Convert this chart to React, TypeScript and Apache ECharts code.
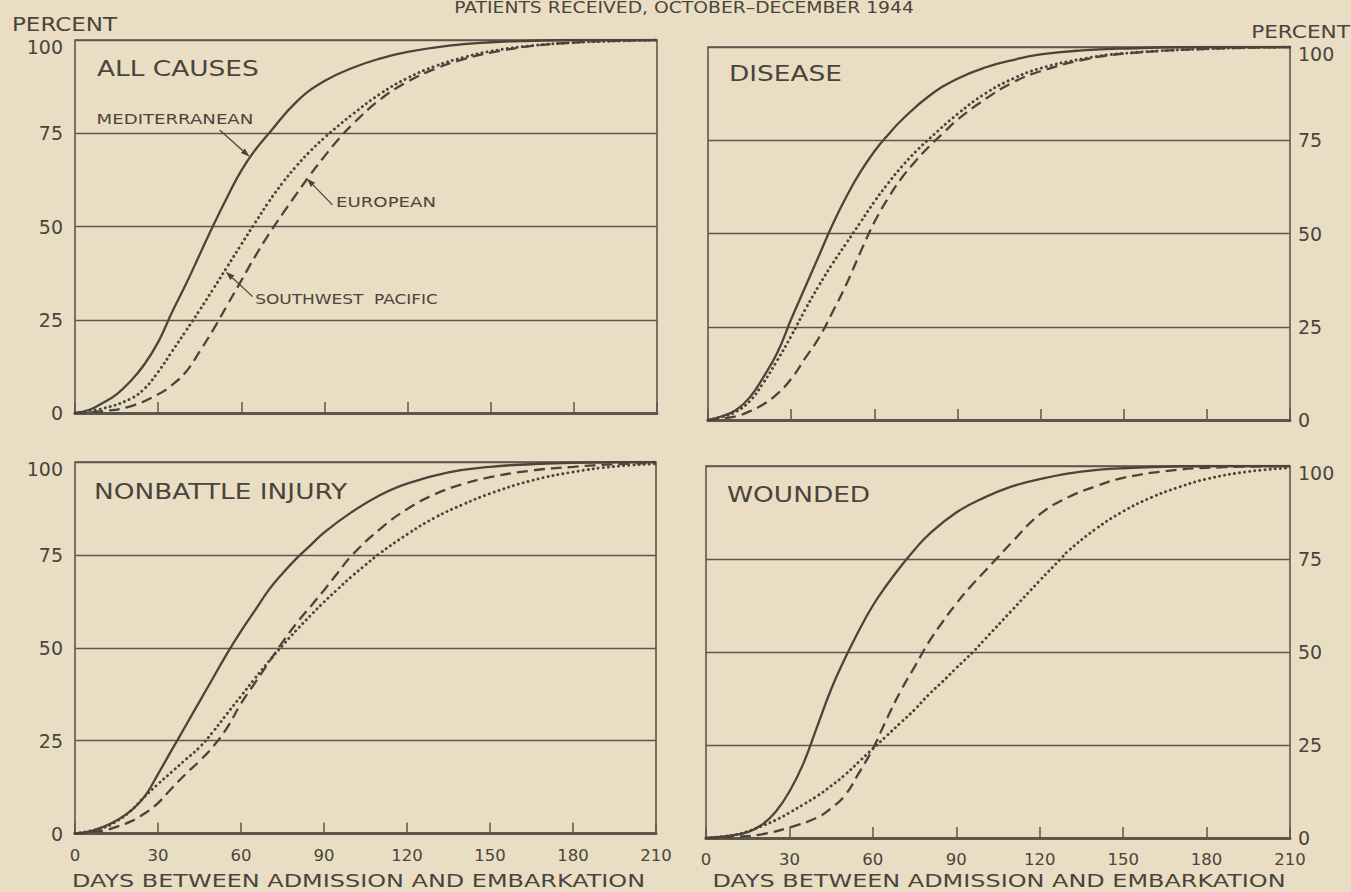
import React, { useEffect, useRef } from "react";
import * as echarts from "echarts";

// ---------- data (days between admission and embarkation, cumulative percent) ----------
const X_TICKS_STEP = 30;
const Y_TICKS_STEP = 25;

// ALL CAUSES
const allMediterranean = [[0,0],[5,0.8],[10,2.7],[15,5],[20,8.5],[25,13],[30,19],[35,27],[40,34.5],[45,42.5],[50,50.5],[55,58],[60,65],[65,70.5],[70,75],[80,83.5],[90,89],[100,92.5],[110,95],[120,96.8],[135,98.5],[150,99.4],[165,99.8],[180,100],[210,100]];
const allSouthwestPacific = [[0,0],[10,1.2],[20,3.8],[25,6.5],[30,11],[35,16.5],[40,22],[45,27.6],[50,33.4],[55,39.3],[60,45.2],[65,51],[70,56.7],[75,61.8],[80,66.3],[85,70.3],[90,73.8],[95,77],[100,80],[110,85.5],[120,89.8],[130,93],[140,95.3],[150,97],[165,98.5],[180,99.3],[195,99.7],[210,100]];
const allEuropean = [[0,0],[10,0.5],[20,1.8],[30,5],[35,7.5],[40,11],[45,16.5],[50,22.5],[55,29],[60,35.5],[65,42],[70,48],[75,53.5],[80,58.8],[85,64],[90,68.8],[95,73.3],[100,77.3],[110,84],[120,88.8],[130,92.3],[140,94.8],[150,96.6],[165,98.4],[180,99.3],[195,99.8],[210,100]];

// DISEASE
const disMediterranean = [[0,0],[5,1],[10,2.6],[15,6],[20,11.5],[25,18],[30,27],[35,35.5],[40,44],[45,52.5],[50,60],[55,66.5],[60,72],[65,76.5],[70,80.5],[80,87],[90,91.5],[100,94.5],[110,96.5],[120,98],[135,99.1],[150,99.6],[180,100],[210,100]];
const disSouthwestPacific = [[0,0],[5,0.8],[10,2.2],[15,5],[20,10],[25,16],[30,22.5],[35,29.5],[40,36],[45,42],[50,47.5],[55,53],[60,58.5],[65,63.5],[70,68],[75,72],[80,75.5],[90,82],[100,87.5],[110,91.5],[120,94.3],[135,96.8],[150,98.3],[180,99.5],[210,100]];
const disEuropean = [[0,0],[10,1],[15,2.3],[20,4.2],[25,7],[30,11],[35,16.5],[40,22],[45,29],[50,36.5],[55,45],[60,53],[65,59.5],[70,65],[75,69.5],[80,73.5],[85,77],[90,80.5],[100,86],[110,90.5],[120,93.5],[135,96.5],[150,98.2],[180,99.5],[210,100]];

// NONBATTLE INJURY
const nbiMediterranean = [[0,0],[5,0.5],[10,1.7],[15,3.5],[20,6],[25,9.8],[30,16],[35,22.5],[40,29],[45,35.5],[50,42],[55,48.5],[60,54.5],[65,60],[70,65.5],[75,70],[80,74],[85,77.5],[90,81],[100,86.5],[110,91],[120,94.2],[135,97.2],[150,98.7],[165,99.4],[180,99.8],[210,100]];
const nbiSouthwestPacific = [[0,0],[10,1.5],[15,3.3],[20,6],[25,9.8],[30,13.3],[35,16.6],[40,19.9],[45,23.2],[50,27.5],[55,32.3],[60,37],[65,41.7],[70,46.3],[75,50.6],[80,54.7],[85,58.6],[90,62.3],[95,65.8],[100,69.2],[105,72.3],[110,75.3],[120,80.5],[130,85],[140,88.5],[150,91.5],[165,95],[180,97.3],[195,98.8],[210,99.5]];
const nbiEuropean = [[0,0],[10,0.8],[15,1.8],[20,3.2],[25,5.3],[30,8.2],[35,12.2],[40,16],[45,19.5],[50,23.5],[55,28.5],[60,35],[65,40.5],[70,46],[75,51.5],[80,56.5],[85,61],[90,65.5],[95,70.2],[100,74.8],[110,81.8],[120,87.3],[130,91.3],[140,94],[150,95.9],[165,97.7],[180,98.7],[195,99.4],[210,99.8]];

// WOUNDED
const wndMediterranean = [[0,0],[10,0.8],[15,1.6],[20,3.5],[25,7],[30,12.5],[35,20],[40,30],[45,40],[50,48.3],[55,55.8],[60,62.5],[65,68],[70,73],[75,77.5],[80,81.5],[90,87.5],[100,91.5],[110,94.5],[120,96.5],[135,98.5],[150,99.4],[180,100],[210,100]];
const wndSouthwestPacific = [[0,0],[10,0.8],[15,1.8],[20,3.2],[25,4.8],[30,6.8],[35,9],[40,11.3],[45,14],[50,17],[55,20.5],[60,24],[65,27.5],[70,31],[75,34.5],[80,38.5],[85,42],[90,45.7],[96,50],[100,53.2],[110,61.2],[120,69.2],[127.5,75],[130,77],[140,83],[150,87.8],[160,91.5],[170,94.3],[180,96.5],[195,98.5],[210,99.5]];
const wndEuropean = [[0,0],[10,0.3],[20,1],[30,2.8],[40,5.5],[45,8],[50,11.5],[55,17.5],[60,24],[65,32],[70,39.5],[75,46],[80,52.5],[85,58],[90,63],[95,67.5],[100,71.5],[105,75.5],[110,79.5],[120,87],[130,91.5],[140,94.5],[150,96.8],[165,98.6],[180,99.5],[210,100]];

const panelTitles = ["ALL CAUSES", "DISEASE", "NONBATTLE INJURY", "WOUNDED"];
const panelSeries = [
  [allMediterranean, allSouthwestPacific, allEuropean],
  [disMediterranean, disSouthwestPacific, disEuropean],
  [nbiMediterranean, nbiSouthwestPacific, nbiEuropean],
  [wndMediterranean, wndSouthwestPacific, wndEuropean],
];
const seriesNames = ["Mediterranean", "Southwest Pacific", "European"];

// ---------- styling ----------
const BG = "#E9DEC4";
const INK = "#4b443b";
const LINE = "#5d564c";
const FONT = "'DejaVu Sans', Verdana, sans-serif";

const grids = [
  { left: 75, top: 40, width: 582, height: 373 },
  { left: 708, top: 47, width: 582, height: 373 },
  { left: 75, top: 462, width: 581, height: 371.5 },
  { left: 706, top: 466, width: 584, height: 372 },
];

const titlePos = [
  [97, 68.5],
  [729, 73],
  [94, 491.5],
  [727, 494],
];

const lineStyles = [
  { color: INK, width: 2.3, type: "solid" },
  { color: INK, width: 2.9, type: [0.1, 5], cap: "round" },
  { color: INK, width: 2.3, type: [11, 6] },
];

function txt(text, x, y, size, opts = {}) {
  return {
    type: "text",
    x,
    y,
    scaleX: opts.scaleX ?? 1,
    silent: true,
    z: 100,
    style: {
      text,
      fill: INK,
      font: `${size}px ${FONT}`,
      textAlign: opts.align ?? "left",
      textVerticalAlign: "middle",
    },
  };
}

export default function App() {
  const ref = useRef(null);

  useEffect(() => {
    document.body.style.margin = "0";
    document.body.style.background = BG;
    const chart = echarts.init(ref.current, null, { renderer: "svg" });

    const series = [];
    panelSeries.forEach((group, gi) => {
      group.forEach((data, si) => {
        series.push({
          name: `${panelTitles[gi]} - ${seriesNames[si]}`,
          type: "line",
          xAxisIndex: gi,
          yAxisIndex: gi,
          data,
          symbol: "none",
          showSymbol: false,
          smooth: 0.45,
          lineStyle: lineStyles[si],
          z: 5,
        });
      });
    });

    const option = {
      animation: false,
      backgroundColor: BG,
      grid: grids.map((g) => ({
        ...g,
        show: true,
        borderColor: LINE,
        borderWidth: 1.6,
        backgroundColor: "transparent",
      })),
      xAxis: grids.map((g, i) => ({
        type: "value",
        gridIndex: i,
        min: 0,
        max: 210,
        interval: X_TICKS_STEP,
        axisLine: { show: true, lineStyle: { color: LINE, width: 3 } },
        axisTick: { show: true, inside: true, length: 11, lineStyle: { color: LINE, width: 1.5 } },
        axisLabel: { show: i >= 2, color: INK, fontSize: 16.5, fontFamily: FONT, margin: 13 },
        splitLine: { show: false },
      })),
      yAxis: grids.map((g, i) => ({
        type: "value",
        gridIndex: i,
        min: 0,
        max: 100,
        interval: Y_TICKS_STEP,
        position: i % 2 ? "right" : "left",
        axisLine: { show: false },
        axisTick: { show: false },
        splitLine: { show: true, lineStyle: { color: LINE, width: 1.3 } },
        axisLabel: {
          color: INK,
          fontSize: 19,
          fontFamily: FONT,
          margin: i % 2 ? 8 : 12,
          formatter: (v) => (v === 100 ? "{t|100}" : String(v)),
          rich: { t: { color: INK, fontSize: 19, fontFamily: FONT, padding: [14, 0, 0, 0] } },
        },
      })),
      series,
    };
    chart.setOption(option);

    // annotations in panel 1 (data coordinates converted through the axes)
    const p = (pt) => chart.convertToPixel({ gridIndex: 0 }, pt);
    const annotations = [
      { text: "MEDITERRANEAN", label: [7.8, 78.9], tail: [52.2, 75.9], tip: [63, 68.7], scaleX: 1.25 },
      { text: "EUROPEAN", label: [94.2, 56.5], tail: [92.9, 55.8], tip: [83.6, 62.9], scaleX: 1.25 },
      { text: "SOUTHWEST  PACIFIC", label: [65, 30.7], tail: [64.1, 31.2], tip: [54.4, 37.9], scaleX: 1.17 },
    ];
    const annGraphics = [];
    annotations.forEach((a) => {
      const [lx, ly] = p(a.label);
      const [tx, ty] = p(a.tail);
      const [hx, hy] = p(a.tip);
      const dx = hx - tx;
      const dy = hy - ty;
      const len = Math.hypot(dx, dy) || 1;
      const ux = dx / len;
      const uy = dy / len;
      const bx = hx - ux * 9;
      const by = hy - uy * 9;
      annGraphics.push(txt(a.text, lx, ly, 14.5, { scaleX: a.scaleX }));
      annGraphics.push({
        type: "line",
        silent: true,
        z: 100,
        shape: { x1: tx, y1: ty, x2: bx, y2: by },
        style: { stroke: INK, lineWidth: 1.3 },
      });
      annGraphics.push({
        type: "polygon",
        silent: true,
        z: 100,
        shape: {
          points: [
            [hx, hy],
            [bx - uy * 3, by + ux * 3],
            [bx + uy * 3, by - ux * 3],
          ],
        },
        style: { fill: INK },
      });
    });

    const staticGraphics = [
      txt("PATIENTS RECEIVED, OCTOBER–DECEMBER 1944", 684, 8, 15, { align: "center", scaleX: 1.25 }),
      txt("PERCENT", 12, 24.5, 20, { scaleX: 1.15 }),
      txt("PERCENT", 1350, 32, 18.5, { align: "right", scaleX: 1.17 }),
      ...panelTitles.map((t, i) => txt(t, titlePos[i][0], titlePos[i][1], 22, { scaleX: 1.2 })),
      txt("DAYS BETWEEN ADMISSION AND EMBARKATION", 358.5, 880.5, 18, { align: "center", scaleX: 1.33 }),
      txt("DAYS BETWEEN ADMISSION AND EMBARKATION", 999, 880.5, 18, { align: "center", scaleX: 1.33 }),
    ];

    chart.setOption({ graphic: [...staticGraphics, ...annGraphics] });

    return () => chart.dispose();
  }, []);

  return <div ref={ref} style={{ width: 1351, height: 892 }} />;
}
